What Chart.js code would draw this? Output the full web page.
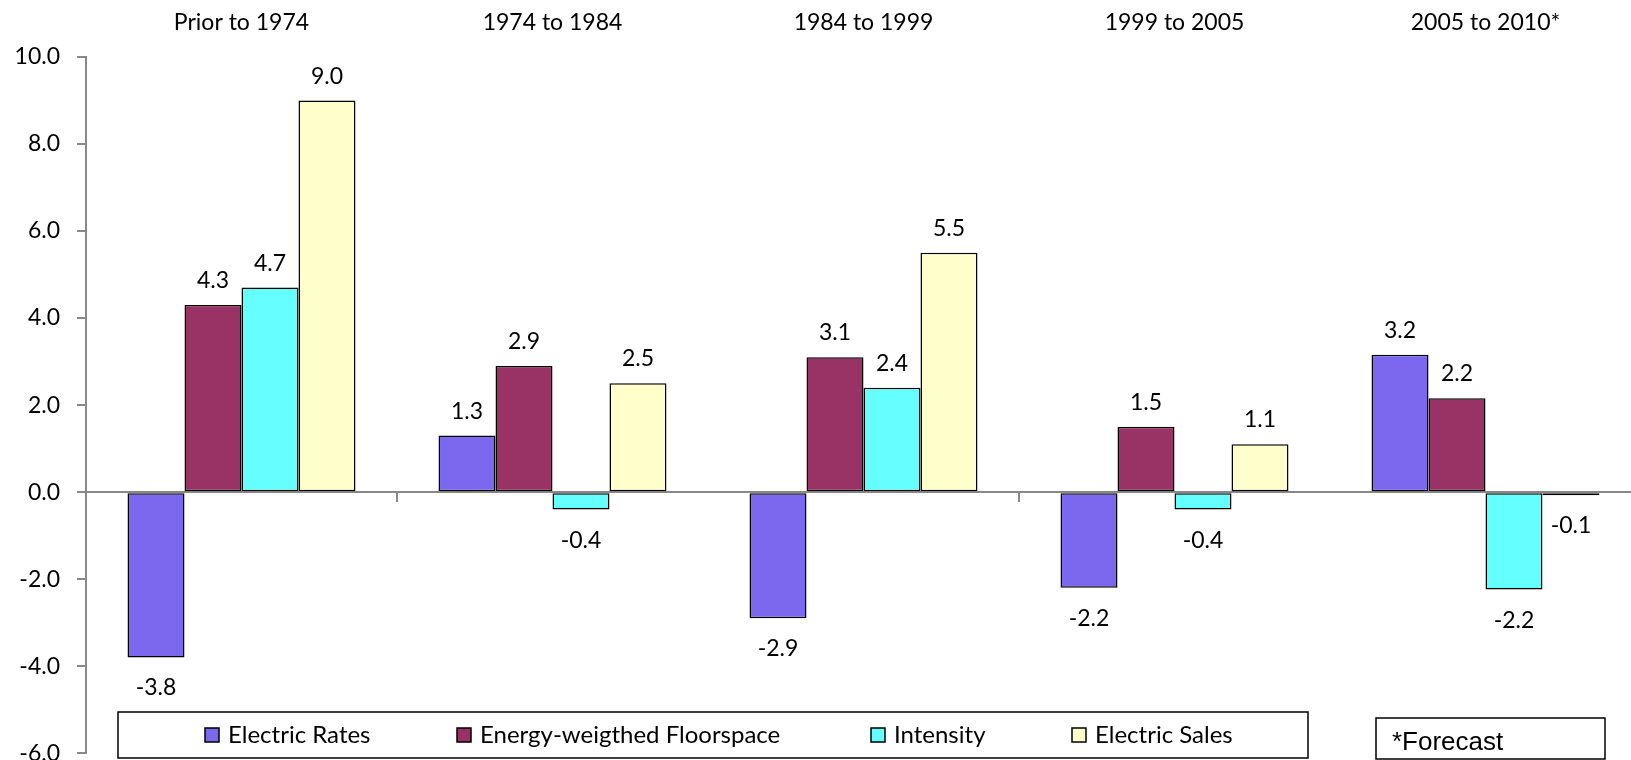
<!DOCTYPE html>
<html><head><meta charset="utf-8">
<script src="https://cdn.jsdelivr.net/npm/chart.js@4.4.0/dist/chart.umd.min.js"></script>
<style>
html,body{margin:0;padding:0;overflow:hidden;background:#fff}
#wrap{position:relative;width:1641px;height:784px}
</style>
</head><body><div id="wrap"><canvas id="c" width="1641" height="784"></canvas></div>
<script>
const categories = ['Prior to 1974', '1974 to 1984', '1984 to 1999', '1999 to 2005', '2005 to 2010*'];
const seriesNames = ['Electric Rates', 'Energy-weigthed Floorspace', 'Intensity', 'Electric Sales'];
const electricRates = [-3.8, 1.3, -2.9, -2.2, 3.16];
const floorspace = [4.3, 2.9, 3.1, 1.5, 2.16];
const intensity = [4.7, -0.4, 2.4, -0.4, -2.24];
const electricSales = [9.0, 2.5, 5.5, 1.1, -0.07];
const yMin = -6, yMax = 10, yStep = 2;
const footnote = '*Forecast';

const colors = ['#7B68EE', '#993366', '#66FFFF', '#FFFFCC'];
const FONT = 'Lato, "DejaVu Sans", sans-serif';
const AXIS_GRAY = '#888888';

const dataLabelPlugin = {
  id: 'dataLabels',
  afterDatasetsDraw(chart) {
    const ctx = chart.ctx;
    ctx.save();
    ctx.font = '23px ' + FONT;
    ctx.fillStyle = '#000';
    ctx.textAlign = 'center';
    ctx.textBaseline = 'alphabetic';
    chart.data.datasets.forEach((ds, i) => {
      const meta = chart.getDatasetMeta(i);
      meta.data.forEach((el, j) => {
        const v = ds.data[j];
        const txt = v.toFixed(1);
        const y = v >= 0 ? el.y - 17 : el.y + 38;
        ctx.fillText(txt, el.x, y);
      });
    });
    ctx.restore();
  }
};

const boxLegendPlugin = {
  id: 'boxLegend',
  afterDraw(chart) {
    const ctx = chart.ctx;
    ctx.save();
    // legend box
    ctx.fillStyle = '#fff';
    ctx.fillRect(118, 712, 1190, 46);
    ctx.strokeStyle = '#000';
    ctx.lineWidth = 1.5;
    ctx.strokeRect(118, 712, 1190, 46);
    const markerX = [205, 457, 871, 1072];
    ctx.font = '24px ' + FONT;
    ctx.textBaseline = 'alphabetic';
    ctx.textAlign = 'left';
    chart.data.datasets.forEach((ds, i) => {
      const mx = markerX[i];
      ctx.fillStyle = ds.backgroundColor;
      ctx.fillRect(mx, 728, 14, 14);
      ctx.lineWidth = 1.5;
      ctx.strokeStyle = '#000';
      ctx.strokeRect(mx, 728, 14, 14);
      ctx.fillStyle = '#000';
      ctx.fillText(ds.label, mx + 23, 743);
    });
    // forecast box
    ctx.fillStyle = '#fff';
    ctx.fillRect(1376, 718, 229, 41);
    ctx.strokeStyle = '#000';
    ctx.lineWidth = 1.5;
    ctx.strokeRect(1376, 718, 229, 41);
    ctx.fillStyle = '#000';
    ctx.font = '26px "Liberation Sans", Arial, sans-serif';
    ctx.fillText(footnote, 1392, 750);
    ctx.restore();
  }
};

const seriesData = [electricRates, floorspace, intensity, electricSales];

new Chart(document.getElementById('c'), {
  type: 'bar',
  data: {
    labels: categories,
    datasets: seriesNames.map((name, i) => ({
      label: name,
      data: seriesData[i],
      backgroundColor: colors[i],
      borderColor: '#000',
      borderWidth: 1.5,
      borderSkipped: false,
      categoryPercentage: 0.733,
      barPercentage: 1.0,
      xAxisID: 'x',
      yAxisID: 'y'
    }))
  },
  options: {
    responsive: false,
    animation: false,
    devicePixelRatio: 1,
    layout: { padding: { left: 0, right: 0, top: 0, bottom: 27 } },
    plugins: {
      legend: { display: false },
      tooltip: { enabled: false },
      title: { display: false }
    },
    scales: {
      x: {
        type: 'category',
        position: { y: 0 },
        z: 1,
        ticks: { display: false },
        grid: {
          display: true,
          drawOnChartArea: false,
          drawTicks: true,
          tickLength: 9,
          offset: true,
          lineWidth: 2,
          color: (c) => (c.index === 1 || c.index === 3) ? AXIS_GRAY : 'rgba(0,0,0,0)'
        },
        border: { display: true, color: AXIS_GRAY, width: 2 },
        afterFit(scale) { scale.height = 0; }
      },
      xTop: {
        type: 'category',
        labels: categories,
        position: 'top',
        grid: { display: false, drawTicks: false },
        border: { display: false },
        ticks: {
          color: '#000',
          font: { family: FONT, size: 23 },
          padding: 21,
          maxRotation: 0,
          autoSkip: false
        },
        afterFit(scale) { scale.height = 57; }
      },
      y: {
        position: 'left',
        min: yMin,
        max: yMax,
        ticks: {
          stepSize: yStep,
          color: '#000',
          font: { family: FONT, size: 23 },
          padding: 17,
          callback: (v) => Number(v).toFixed(1)
        },
        grid: {
          drawOnChartArea: false,
          drawTicks: true,
          tickLength: 9,
          color: AXIS_GRAY,
          lineWidth: 2
        },
        border: { display: true, color: AXIS_GRAY, width: 2 },
        afterFit(scale) { scale.width = 86; }
      }
    }
  },
  plugins: [dataLabelPlugin, boxLegendPlugin]
});
</script>
</body></html>
